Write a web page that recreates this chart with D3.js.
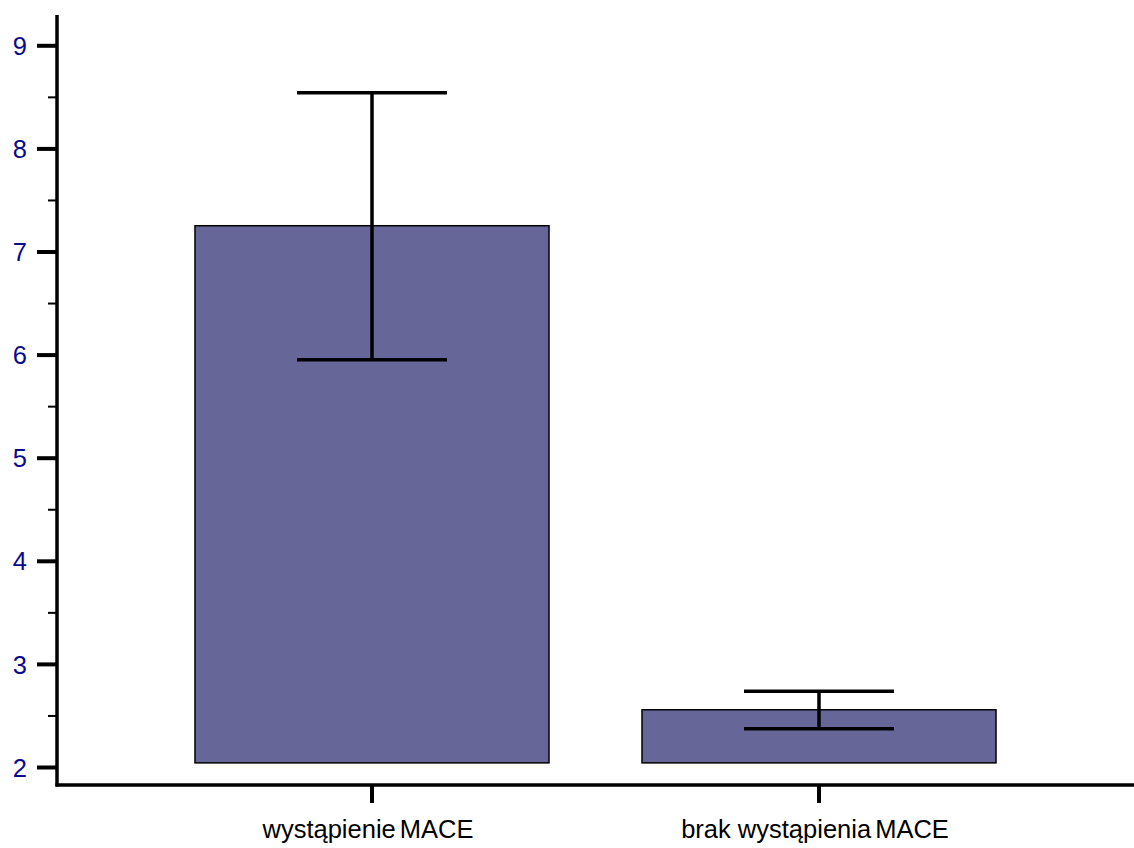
<!DOCTYPE html>
<html><head><meta charset="utf-8">
<script src="https://cdn.jsdelivr.net/npm/d3@7"></script>
<style>body{margin:0;background:#fff}svg{display:block}</style>
</head><body>
<script>
const categories = ["wystąpienie MACE", "brak wystąpienia MACE"];
const means = [7.25, 2.555];
const errUpper = [8.54, 2.735];
const errLower = [5.95, 2.37];
const barBase = 2.04;
const yTicks = [2, 3, 4, 5, 6, 7, 8, 9];
const yMinorTicks = [2.5, 3.5, 4.5, 5.5, 6.5, 7.5, 8.5];

const W = 1134, H = 848;
const svg = d3.select("body").append("svg").attr("width", W).attr("height", H);

const y = d3.scaleLinear().domain([2, 9]).range([767, 45.3]);
const x = d3.scaleBand().domain(categories).range([148.5, 1042.5]).paddingInner(0.208).paddingOuter(0.104);

const axisX = 57, axisY = 785;
const FONT = "Liberation Sans, Arial, sans-serif";

// bars
svg.selectAll("rect.bar").data(categories).enter().append("rect")
  .attr("x", d => x(d)).attr("width", x.bandwidth())
  .attr("y", (d, i) => y(means[i]))
  .attr("height", (d, i) => y(barBase) - y(means[i]))
  .attr("fill", "#666699").attr("stroke", "#000").attr("stroke-width", 1.5);

// error bars
const capW = 150;
const eb = svg.selectAll("g.err").data(categories).enter().append("g")
  .attr("stroke", "#000").attr("stroke-width", 3.5);
eb.append("line").attr("x1", d => x(d) + x.bandwidth() / 2).attr("x2", d => x(d) + x.bandwidth() / 2)
  .attr("y1", (d, i) => y(errUpper[i])).attr("y2", (d, i) => y(errLower[i]));
eb.append("line").attr("x1", d => x(d) + x.bandwidth() / 2 - capW / 2).attr("x2", d => x(d) + x.bandwidth() / 2 + capW / 2)
  .attr("y1", (d, i) => y(errUpper[i])).attr("y2", (d, i) => y(errUpper[i]));
eb.append("line").attr("x1", d => x(d) + x.bandwidth() / 2 - capW / 2).attr("x2", d => x(d) + x.bandwidth() / 2 + capW / 2)
  .attr("y1", (d, i) => y(errLower[i])).attr("y2", (d, i) => y(errLower[i]));

// y axis
const yAxis = d3.axisLeft(y).tickValues(yTicks).tickSize(20).tickPadding(10).tickFormat(d3.format("d"));
const gy = svg.append("g").attr("transform", `translate(${axisX},0)`).call(yAxis);
gy.select(".domain").remove();
gy.selectAll(".tick line").attr("stroke", "#000").attr("stroke-width", 4);
gy.selectAll(".tick text").attr("fill", "#0a0a8c").attr("font-family", FONT)
  .attr("font-size", 25.5).attr("dy", "0.36em");
const gyMinor = svg.append("g").attr("transform", `translate(${axisX},0)`)
  .call(d3.axisLeft(y).tickValues(yMinorTicks).tickSize(9).tickFormat(""));
gyMinor.select(".domain").remove();
gyMinor.selectAll(".tick line").attr("stroke", "#000").attr("stroke-width", 2);

// x axis
const gx = svg.append("g").attr("transform", `translate(0,${axisY})`)
  .call(d3.axisBottom(x).tickSize(18).tickPadding(17));
gx.select(".domain").remove();
gx.selectAll(".tick line").attr("stroke", "#000").attr("stroke-width", 4);
gx.selectAll(".tick text").attr("fill", "#000").attr("font-family", FONT)
  .attr("font-size", 25.5).attr("dx", "-4")
  .each(function (d) {
    const t = d3.select(this);
    const k = d.lastIndexOf(" ");
    t.text(null);
    t.append("tspan").text(d.slice(0, k));
    t.append("tspan").attr("word-spacing", "-3").text(d.slice(k));
  });

// axis lines
svg.append("line").attr("x1", axisX).attr("x2", axisX).attr("y1", 15).attr("y2", axisY + 1.5)
  .attr("stroke", "#000").attr("stroke-width", 3.5);
svg.append("line").attr("x1", axisX - 1.5).attr("x2", 1134).attr("y1", axisY).attr("y2", axisY)
  .attr("stroke", "#000").attr("stroke-width", 3.5);
</script>
</body></html>
